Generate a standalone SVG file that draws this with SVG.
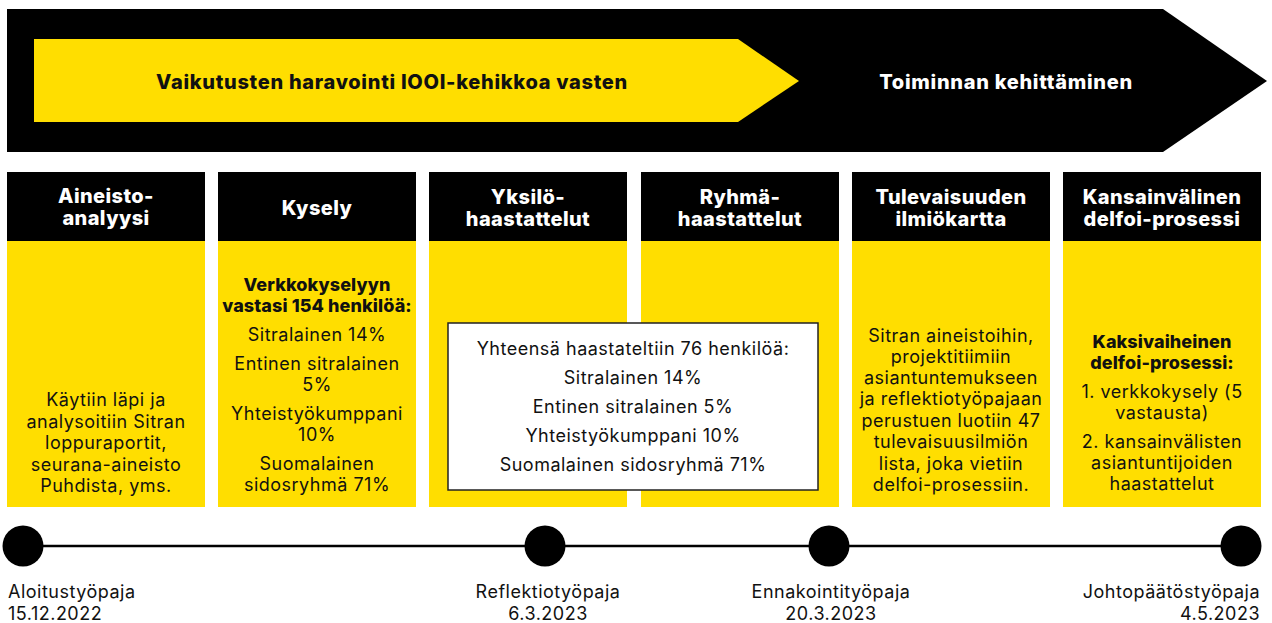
<svg xmlns="http://www.w3.org/2000/svg" width="1272" height="623" viewBox="0 0 1272 623">
<style>
text{font-family:Inter,"Noto Sans","DejaVu Sans",sans-serif;text-anchor:middle;}
.h{font-size:20px;font-weight:800;fill:#fff;letter-spacing:0.4px;}
.t{font-size:20px;font-weight:800;letter-spacing:0.7px;}
.b{font-size:18px;fill:#111;letter-spacing:0.5px;}
.bb{font-size:18px;font-weight:800;fill:#111;letter-spacing:0.1px;}
.hd{fill:#000;}
.bd{fill:#FFDE00;}
.dot{fill:#000;}
</style>
<g id="banner">
<polygon points="7,9 1163,9 1267,81 1163,152 7,152" fill="#000"/>
<polygon points="34,39 738,39 799,81 738,122 34,122" fill="#FFDE00"/>
<text class="t" x="392" y="89" fill="#111">Vaikutusten haravointi IOOI-kehikkoa vasten</text>
<text class="t" x="1006" y="89" fill="#fff">Toiminnan kehittäminen</text>
</g>
<g id="col1">
<rect class="bd" x="7" y="241" width="198" height="266"/>
<rect class="hd" x="7" y="172" width="198" height="69"/>
<text class="h" x="106" y="203">Aineisto-</text>
<text class="h" x="106" y="225">analyysi</text>
<text class="b" x="106" y="406">Käytiin läpi ja</text>
<text class="b" x="106" y="427.5">analysoitiin Sitran</text>
<text class="b" x="106" y="449">loppuraportit,</text>
<text class="b" x="106" y="470.5">seurana-aineisto</text>
<text class="b" x="106" y="492">Puhdista, yms.</text>
</g>
<g id="col2">
<rect class="bd" x="218" y="241" width="198" height="266"/>
<rect class="hd" x="218" y="172" width="198" height="69"/>
<text class="h" x="317" y="215">Kysely</text>
<text class="bb" x="317" y="291">Verkkokyselyyn</text>
<text class="bb" x="317" y="312">vastasi 154 henkilöä:</text>
<text class="b" x="317" y="341">Sitralainen 14%</text>
<text class="b" x="317" y="370">Entinen sitralainen</text>
<text class="b" x="317" y="391">5%</text>
<text class="b" x="317" y="420">Yhteistyökumppani</text>
<text class="b" x="317" y="441">10%</text>
<text class="b" x="317" y="470">Suomalainen</text>
<text class="b" x="317" y="491">sidosryhmä 71%</text>
</g>
<g id="col3">
<rect class="bd" x="429" y="241" width="198" height="266"/>
<rect class="hd" x="429" y="172" width="198" height="69"/>
<text class="h" x="528" y="204">Yksilö-</text>
<text class="h" x="528" y="226">haastattelut</text>
</g>
<g id="col4">
<rect class="bd" x="641" y="241" width="198" height="266"/>
<rect class="hd" x="641" y="172" width="198" height="69"/>
<text class="h" x="740" y="204">Ryhmä-</text>
<text class="h" x="740" y="226">haastattelut</text>
</g>
<g id="col5">
<rect class="bd" x="852" y="241" width="198" height="266"/>
<rect class="hd" x="852" y="172" width="198" height="69"/>
<text class="h" x="951" y="204">Tulevaisuuden</text>
<text class="h" x="951" y="226">ilmiökartta</text>
<text class="b" x="951" y="342">Sitran aineistoihin,</text>
<text class="b" x="951" y="363">projektitiimiin</text>
<text class="b" x="951" y="384">asiantuntemukseen</text>
<text class="b" x="951" y="405">ja reflektiotyöpajaan</text>
<text class="b" x="951" y="427">perustuen luotiin 47</text>
<text class="b" x="951" y="448">tulevaisuusilmiön</text>
<text class="b" x="951" y="470">lista, joka vietiin</text>
<text class="b" x="951" y="491">delfoi-prosessiin.</text>
</g>
<g id="col6">
<rect class="bd" x="1063" y="241" width="198" height="266"/>
<rect class="hd" x="1063" y="172" width="198" height="69"/>
<text class="h" x="1162" y="204">Kansainvälinen</text>
<text class="h" x="1162" y="226">delfoi-prosessi</text>
<text class="bb" x="1162" y="348">Kaksivaiheinen</text>
<text class="bb" x="1162" y="369">delfoi-prosessi:</text>
<text class="b" x="1162" y="398">1. verkkokysely (5</text>
<text class="b" x="1162" y="419">vastausta)</text>
<text class="b" x="1162" y="448">2. kansainvälisten</text>
<text class="b" x="1162" y="469">asiantuntijoiden</text>
<text class="b" x="1162" y="490">haastattelut</text>
</g>
<g id="interviews">
<rect x="448" y="323" width="370" height="167" fill="#fff" stroke="#222" stroke-width="1.5"/>
<text class="b" x="633" y="355">Yhteensä haastateltiin 76 henkilöä:</text>
<text class="b" x="633" y="384">Sitralainen 14%</text>
<text class="b" x="633" y="413">Entinen sitralainen 5%</text>
<text class="b" x="633" y="442">Yhteistyökumppani 10%</text>
<text class="b" x="633" y="471">Suomalainen sidosryhmä 71%</text>
</g>
<g id="connectors">
<line x1="23" y1="546" x2="1240" y2="546" stroke="#000" stroke-width="2.5"/>
</g>
<g id="m1">
<circle class="dot" cx="23" cy="546" r="20.5"/>
<text class="b" x="8" y="598" style="text-anchor:start">Aloitustyöpaja</text>
<text class="b" x="8" y="620" style="text-anchor:start">15.12.2022</text>
</g>
<g id="m2">
<circle class="dot" cx="545" cy="546" r="20.5"/>
<text class="b" x="548" y="598">Reflektiotyöpaja</text>
<text class="b" x="548" y="620">6.3.2023</text>
</g>
<g id="m3">
<circle class="dot" cx="829" cy="546" r="20.5"/>
<text class="b" x="831" y="598">Ennakointityöpaja</text>
<text class="b" x="831" y="620">20.3.2023</text>
</g>
<g id="m4">
<circle class="dot" cx="1241" cy="546" r="20.5"/>
<text class="b" x="1260" y="598" style="text-anchor:end">Johtopäätöstyöpaja</text>
<text class="b" x="1260" y="620" style="text-anchor:end">4.5.2023</text>
</g>
</svg>
